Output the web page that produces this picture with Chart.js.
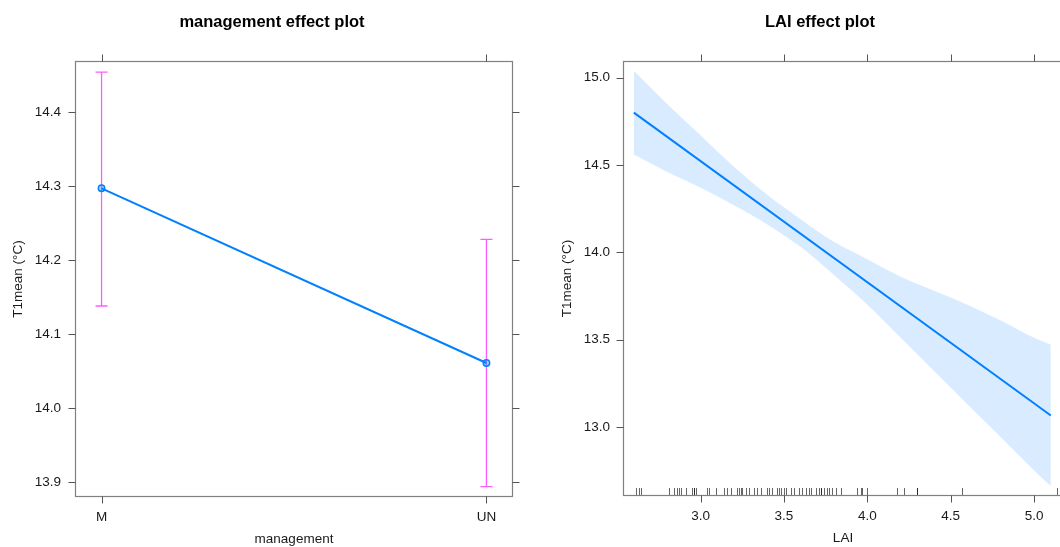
<!DOCTYPE html>
<html>
<head>
<meta charset="utf-8">
<title>Effect plots</title>
<script src="https://cdn.jsdelivr.net/npm/chart.js@4.4.1/dist/chart.umd.min.js"></script>
<style>
  html, body { margin: 0; padding: 0; background: #fff; overflow: hidden; }
  #wrap { position: relative; width: 1060px; height: 547px; overflow: hidden; }
  #mgmtChart { position: absolute; left: 0; top: 0; }
  #laiChart { position: absolute; left: 540px; top: 0; }
</style>
</head>
<body>
<div id="wrap">
  <canvas id="mgmtChart" width="540" height="547"></canvas>
  <canvas id="laiChart" width="560" height="547"></canvas>
</div>
<script>
// management effect (fit + 95% interval per level)
const mgmtLevels = ["M", "UN"];
const mgmtFit = [14.297, 14.061];
const mgmtLower = [14.138, 13.894];
const mgmtUpper = [14.454, 14.228];
const mgmtYTicks = [13.9, 14.0, 14.1, 14.2, 14.3, 14.4];

// LAI effect: fitted line, confidence band, observed LAI values for the rug
const laiFitX = [2.6, 5.1];
const laiFit = [14.80, 13.065];
const laiBandX = [2.6, 2.8, 3.0, 3.2, 3.4, 3.6, 3.8, 4.0, 4.2, 4.4, 4.6, 4.8, 5.0, 5.1];
const laiUpper = [15.04, 14.85, 14.67, 14.49, 14.33, 14.19, 14.06, 13.96, 13.86, 13.78, 13.70, 13.61, 13.51, 13.47];
const laiLower = [14.56, 14.46, 14.37, 14.27, 14.16, 14.03, 13.87, 13.70, 13.51, 13.32, 13.13, 12.94, 12.75, 12.66];
const laiRug = [2.61, 2.63, 2.64, 2.81, 2.84, 2.86, 2.87, 2.88, 2.91, 2.95, 2.96, 2.96, 2.97,
  3.04, 3.05, 3.09, 3.14, 3.16, 3.18, 3.22, 3.23, 3.24, 3.25, 3.27, 3.29, 3.32, 3.34, 3.36,
  3.40, 3.41, 3.43, 3.46, 3.47, 3.48, 3.50, 3.51, 3.54, 3.56, 3.59, 3.61, 3.63, 3.65, 3.66,
  3.69, 3.71, 3.72, 3.72, 3.74, 3.76, 3.77, 3.79, 3.81, 3.84, 3.94, 3.96, 3.97, 4.00,
  4.18, 4.22, 4.30, 4.30, 4.57, 5.14];
const laiXTicks = [3.0, 3.5, 4.0, 4.5, 5.0];
const laiYTicks = [13.0, 13.5, 14.0, 14.5, 15.0];

const FONT = '"Liberation Sans", Arial, sans-serif';
const LINE_BLUE = "#0080ff";
const BOX_GREY = "#808080";
const TICK_LEN = 7;

Chart.defaults.font.family = FONT;
Chart.defaults.font.size = 13.5;
Chart.defaults.color = "#1a1a1a";

// box round the panel, outward ticks on all four sides, panel title
const framePlugin = {
  id: "frame",
  afterDraw(chart, args, opts) {
    const { ctx, chartArea: a, scales } = chart;
    const L = Math.round(a.left) + 0.5, R = Math.round(a.right) - 0.5;
    const T = Math.round(a.top) + 0.5, B = Math.round(a.bottom) - 0.5;
    ctx.save();
    ctx.strokeStyle = BOX_GREY;
    ctx.lineWidth = 1.2;
    ctx.strokeRect(L, T, R - L, B - T);

    ctx.strokeStyle = "#555";
    ctx.lineWidth = 1;
    ctx.beginPath();
    scales.x.ticks.forEach(t => {
      const px = Math.round(scales.x.getPixelForValue(t.value)) + 0.5;
      ctx.moveTo(px, B); ctx.lineTo(px, B + TICK_LEN);
      ctx.moveTo(px, T); ctx.lineTo(px, T - TICK_LEN);
    });
    scales.y.ticks.forEach(t => {
      const py = Math.round(scales.y.getPixelForValue(t.value)) + 0.5;
      ctx.moveTo(L, py); ctx.lineTo(L - TICK_LEN, py);
      ctx.moveTo(R, py); ctx.lineTo(R + TICK_LEN, py);
    });
    ctx.stroke();

    ctx.fillStyle = "#000";
    ctx.font = "bold 16.5px " + FONT;
    ctx.textAlign = "center";
    ctx.textBaseline = "middle";
    ctx.fillText(opts.text, opts.x, opts.y);
    ctx.restore();
  }
};

// vertical interval with caps for each management level
const errorBarPlugin = {
  id: "errorBars",
  beforeDatasetsDraw(chart) {
    const { ctx, scales: { x, y } } = chart;
    ctx.save();
    ctx.strokeStyle = "#ff5cff";
    ctx.lineWidth = 1.3;
    ctx.beginPath();
    mgmtLevels.forEach((lev, i) => {
      const px = x.getPixelForValue(i);
      const yl = y.getPixelForValue(mgmtLower[i]);
      const yu = y.getPixelForValue(mgmtUpper[i]);
      ctx.moveTo(px, yl); ctx.lineTo(px, yu);
      ctx.moveTo(px - 6, yl); ctx.lineTo(px + 6, yl);
      ctx.moveTo(px - 6, yu); ctx.lineTo(px + 6, yu);
    });
    ctx.stroke();
    ctx.restore();
  }
};

// rug of observed LAI values along the bottom of the panel
const rugPlugin = {
  id: "rug",
  afterDatasetsDraw(chart) {
    const { ctx, chartArea: a, scales: { x } } = chart;
    ctx.save();
    ctx.strokeStyle = "rgba(0,0,0,0.6)";
    ctx.lineWidth = 1;
    ctx.beginPath();
    laiRug.forEach(v => {
      const px = Math.round(x.getPixelForValue(v)) + 0.5;
      ctx.moveTo(px, a.bottom);
      ctx.lineTo(px, a.bottom - 8);
    });
    ctx.stroke();
    ctx.restore();
  }
};

function fixedTicks(values) {
  return scale => { scale.ticks = values.map(v => ({ value: v })); };
}

const noGrid = { display: false, drawTicks: false };

new Chart(document.getElementById("mgmtChart"), {
  type: "line",
  data: {
    datasets: [{
      data: mgmtFit.map((v, i) => ({ x: i, y: v })),
      borderColor: LINE_BLUE,
      borderWidth: 2,
      pointRadius: 3.2,
      pointBorderWidth: 1.5,
      pointBorderColor: LINE_BLUE,
      pointBackgroundColor: "rgba(0,128,255,0.3)"
    }]
  },
  options: {
    responsive: false,
    animation: false,
    layout: { padding: { top: 61, right: 27, bottom: 0, left: 0 } },
    plugins: {
      legend: { display: false },
      tooltip: { enabled: false },
      frame: { text: "management effect plot", x: 272, y: 22 }
    },
    scales: {
      x: {
        type: "linear",
        min: -0.069,
        max: 1.069,
        grid: noGrid,
        border: { display: false },
        afterBuildTicks: fixedTicks([0, 1]),
        afterFit: s => { s.height = 50; },
        ticks: { padding: 12, callback: v => mgmtLevels[v] },
        title: { display: true, text: "management", padding: { top: 0, bottom: 0 } }
      },
      y: {
        min: 13.880,
        max: 14.469,
        grid: noGrid,
        border: { display: false },
        afterBuildTicks: fixedTicks(mgmtYTicks),
        afterFit: s => { s.width = 75; },
        ticks: { padding: 14, callback: v => v.toFixed(1) },
        title: { display: true, text: "T1mean (°C)", padding: { top: 10, bottom: 0 } }
      }
    }
  },
  plugins: [errorBarPlugin, framePlugin]
});

const bandColor = "rgba(0,128,255,0.15)";

new Chart(document.getElementById("laiChart"), {
  type: "line",
  data: {
    datasets: [
      {
        data: laiBandX.map((v, i) => ({ x: v, y: laiLower[i] })),
        borderWidth: 0,
        pointRadius: 0,
        cubicInterpolationMode: "monotone",
        fill: false
      },
      {
        data: laiBandX.map((v, i) => ({ x: v, y: laiUpper[i] })),
        borderWidth: 0,
        pointRadius: 0,
        cubicInterpolationMode: "monotone",
        backgroundColor: bandColor,
        fill: "-1"
      },
      {
        data: laiFitX.map((v, i) => ({ x: v, y: laiFit[i] })),
        borderColor: LINE_BLUE,
        borderWidth: 2,
        pointRadius: 0,
        fill: false
      }
    ]
  },
  options: {
    responsive: false,
    animation: false,
    layout: { padding: { top: 61, right: 37, bottom: 0, left: 0 } },
    plugins: {
      legend: { display: false },
      tooltip: { enabled: false },
      frame: { text: "LAI effect plot", x: 280, y: 22 }
    },
    scales: {
      x: {
        type: "linear",
        min: 2.535,
        max: 5.173,
        grid: noGrid,
        border: { display: false },
        afterBuildTicks: fixedTicks(laiXTicks),
        afterFit: s => { s.height = 51; },
        ticks: { padding: 12, callback: v => v.toFixed(1) },
        title: { display: true, text: "LAI", padding: { top: 0, bottom: 1 } }
      },
      y: {
        min: 12.604,
        max: 15.096,
        grid: noGrid,
        border: { display: false },
        afterBuildTicks: fixedTicks(laiYTicks),
        afterFit: s => { s.width = 83; },
        ticks: { padding: 13, callback: v => v.toFixed(1) },
        title: { display: true, text: "T1mean (°C)", padding: { top: 19, bottom: 0 } }
      }
    }
  },
  plugins: [rugPlugin, framePlugin]
});
</script>
</body>
</html>
